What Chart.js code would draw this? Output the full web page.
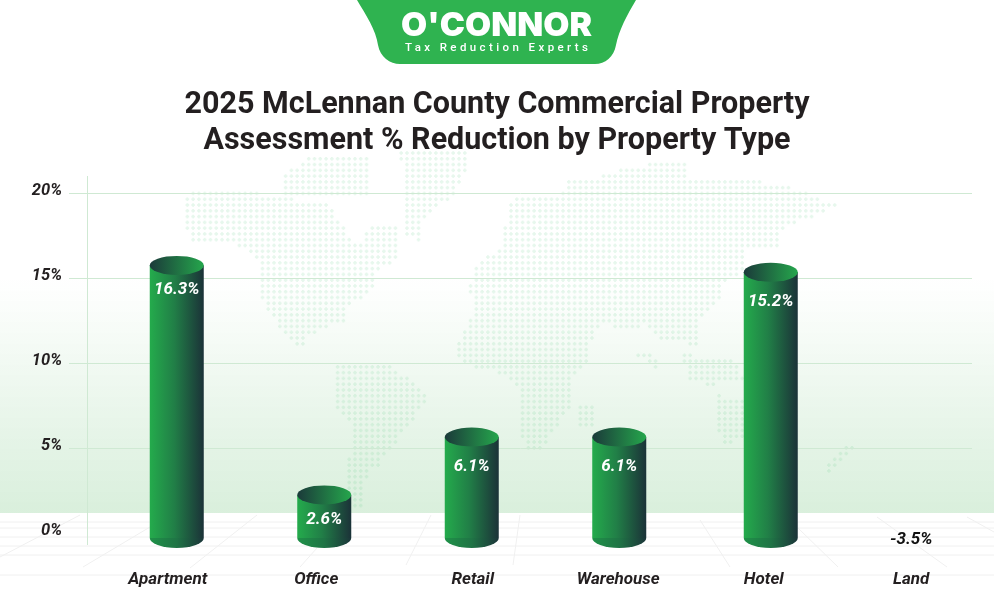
<!DOCTYPE html>
<html>
<head>
<meta charset="utf-8">
<title>2025 McLennan County Commercial Property Assessment % Reduction by Property Type</title>
<script src="https://cdn.jsdelivr.net/npm/chart.js@4"></script>
<style>
  html, body { margin: 0; padding: 0; background: #fff; }
  #wrap { position: relative; width: 994px; height: 612px; overflow: hidden; }
  #chart { position: absolute; left: 0; top: 0; }
  #logo { position: absolute; left: 0; top: 0; }
</style>
</head>
<body>
<div id="wrap">
  <canvas id="chart" width="994" height="612"></canvas>
  <svg id="logo" width="994" height="70" viewBox="0 0 994 70">
    <path d="M357 0 C366 15 376 30 378 45 C380 57 390 64 400 64 L595 64 C605 64 614 57 616 45 C619 30 627 15 636 0 Z" fill="#2fb350"/>
    <text x="401" y="36" textLength="191" lengthAdjust="spacingAndGlyphs" font-family="Inter, Roboto" font-weight="900" font-size="33" fill="#fff">O'CONNOR</text>
    <text x="405" y="51" textLength="183" font-family="Roboto" font-weight="500" font-size="11.5" fill="#fff">Tax Reduction Experts</text>
  </svg>
</div>
<script>
const categories = ['Apartment', 'Office', 'Retail', 'Warehouse', 'Hotel', 'Land'];
// bar tops as drawn in the picture (Hotel stands taller than its 15.2 label, Land has no bar)
const barHeights = [16.3, 2.8, 6.2, 6.2, 15.9, null];
const valueLabels = ['16.3%', '2.6%', '6.1%', '6.1%', '15.2%', '-3.5%'];
const yTicks = [0, 5, 10, 15, 20];

const titleLines = ['2025 McLennan County Commercial Property', 'Assessment % Reduction by Property Type'];

// small hand offsets, the original artwork is not evenly spaced
const barNudge = [0, 0, 0, 0, 4, 0];
const labelNudge = [-9, -8, 1, -1, -3, -3];
const valueDrop = [34, 34, 39, 39, 39, 0];

const INK = '#231f20';
const BAR_R = 27, CAP_R = 9.5, BASE_DROP = 5;

// rough continent outlines for the dotted world map behind the chart
const mapShapes = [
  [[194,190],[240,190],[285,198],[330,205],[340,222],[357,245],[372,225],[397,228],[397,262],[375,272],[372,290],[350,305],[345,320],[328,328],[306,338],[310,348],[298,350],[278,325],[262,300],[262,268],[250,250],[225,240],[195,245],[182,225],[182,200]],
  [[285,172],[310,157],[372,157],[372,195],[285,195]],
  [[400,153],[470,153],[462,180],[452,198],[425,215],[420,240],[406,238],[405,190]],
  [[332,365],[390,365],[427,393],[427,400],[413,420],[403,432],[393,448],[380,464],[367,474],[363,506],[350,506],[348,463],[355,430],[343,418],[332,398]],
  [[597,178],[637,165],[690,162],[690,180],[765,182],[800,190],[836,205],[812,218],[778,230],[785,245],[748,250],[745,270],[722,285],[720,300],[700,322],[700,345],[660,340],[645,325],[625,330],[602,322],[590,345],[587,362],[577,370],[570,382],[573,402],[563,418],[550,438],[540,450],[528,450],[522,437],[517,417],[517,390],[507,376],[477,368],[458,360],[458,343],[472,312],[470,285],[478,262],[500,250],[505,225],[512,198],[560,198],[570,178]],
  [[636,355],[655,355],[660,372],[646,358]],
  [[680,352],[725,362],[740,368],[745,382],[690,380]],
  [[697,362],[732,358],[736,378],[705,388]],
  [[718,395],[745,398],[760,415],[800,425],[800,428],[735,442],[722,442],[718,428],[716,410]],
  [[820,468],[850,443],[853,449],[827,474]],
  [[580,403],[593,403],[593,425],[580,425]]
];

const floorLines = [
  [0,522,994,522],[0,528,994,528],[0,537,994,537],[0,546,994,546],[0,555,994,555],[0,575,994,575],
  [80,515,0,557],[150,527,83,567],[257,515,190,568],[317,548,300,567],[431,515,406,565],[520,515,513,565],
  [700,520,730,567],[798,528,838,567],[877,517,947,567],[967,517,994,532]
];

function insideShape(px, py, pts) {
  let hit = false;
  for (let i = 0, j = pts.length - 1; i < pts.length; j = i++) {
    const [xi, yi] = pts[i], [xj, yj] = pts[j];
    if ((yi > py) !== (yj > py) && px < (xj - xi) * (py - yi) / (yj - yi) + xi) hit = !hit;
  }
  return hit;
}

function drawBackdrop(ctx) {
  const band = ctx.createLinearGradient(0, 280, 0, 513);
  band.addColorStop(0, 'rgba(217,239,220,0)');
  band.addColorStop(1, '#d9efdc');
  ctx.fillStyle = band;
  ctx.fillRect(0, 280, 994, 233);

  ctx.fillStyle = 'rgba(70,190,115,0.13)';
  for (let py = 153; py < 510; py += 5.78) {
    for (let px = 170; px < 860; px += 5.78) {
      if (mapShapes.some(s => insideShape(px, py, s))) {
        ctx.fillRect(px - 1.8, py - 0.9, 3.6, 1.8);
        ctx.fillRect(px - 0.9, py - 1.8, 1.8, 0.9);
        ctx.fillRect(px - 0.9, py + 0.9, 1.8, 0.9);
      }
    }
  }

  ctx.strokeStyle = '#f0f0f0';
  ctx.lineWidth = 1;
  floorLines.forEach(l => {
    ctx.beginPath();
    ctx.moveTo(l[0], l[1]);
    ctx.lineTo(l[2], l[3]);
    ctx.stroke();
  });
}

function drawCylinder(ctx, x, top, base) {
  const body = ctx.createLinearGradient(x - BAR_R, 0, x + BAR_R, 0);
  body.addColorStop(0, '#24ab4c');
  body.addColorStop(0.45, '#217f47');
  body.addColorStop(1, '#1b3238');
  const cy = top + CAP_R;
  ctx.fillStyle = body;
  ctx.fillRect(x - BAR_R, cy, BAR_R * 2, base - cy);

  const foot = ctx.createLinearGradient(x - BAR_R, 0, x + BAR_R, 0);
  foot.addColorStop(0, '#1f9148');
  foot.addColorStop(0.5, '#1f7445');
  foot.addColorStop(1, '#1b3539');
  ctx.fillStyle = foot;
  ctx.beginPath();
  ctx.ellipse(x, base, BAR_R, CAP_R + 0.5, 0, 0, Math.PI);
  ctx.closePath();
  ctx.fill();

  const cap = ctx.createLinearGradient(x - BAR_R, 0, x + BAR_R, 0);
  cap.addColorStop(0, '#1b3a3a');
  cap.addColorStop(1, '#25a64c');
  ctx.fillStyle = cap;
  ctx.beginPath();
  ctx.ellipse(x, cy, BAR_R, CAP_R, 0, 0, Math.PI * 2);
  ctx.fill();
}

const backdropPlugin = {
  id: 'backdrop',
  beforeDraw(chart) {
    drawBackdrop(chart.ctx);
  },
  beforeDatasetsDraw(chart) {
    const { ctx, scales: { y } } = chart;
    ctx.save();
    ctx.strokeStyle = '#cfe9d3';
    ctx.lineWidth = 1;
    yTicks.filter(v => v > 0).forEach(v => {
      const py = Math.round(y.getPixelForValue(v)) + 0.5;
      ctx.beginPath();
      ctx.moveTo(69, py);
      ctx.lineTo(972, py);
      ctx.stroke();
    });
    ctx.beginPath();
    ctx.moveTo(87.5, 176);
    ctx.lineTo(87.5, 545);
    ctx.stroke();
    ctx.restore();
  }
};

const cylinderPlugin = {
  id: 'cylinders',
  afterDatasetsDraw(chart) {
    const { ctx, scales: { x, y } } = chart;
    const zero = y.getPixelForValue(0);
    const bars = chart.getDatasetMeta(0).data;
    ctx.save();
    ctx.textAlign = 'center';
    ctx.textBaseline = 'middle';
    categories.forEach((name, i) => {
      const cx = x.getPixelForTick(i);
      ctx.font = 'italic 700 17px Roboto';
      if (barHeights[i] !== null) {
        drawCylinder(ctx, bars[i].x + barNudge[i], bars[i].y, zero + BASE_DROP);
        ctx.fillStyle = '#fff';
        ctx.fillText(valueLabels[i], bars[i].x + barNudge[i], bars[i].y + valueDrop[i]);
      } else {
        ctx.fillStyle = '#111';
        ctx.fillText(valueLabels[i], cx + labelNudge[i], zero + 7);
      }
      ctx.fillStyle = INK;
      ctx.fillText(name, cx + labelNudge[i], zero + 47);
    });
    ctx.restore();
  }
};

new Chart(document.getElementById('chart'), {
  type: 'bar',
  data: {
    labels: categories,
    datasets: [{ data: barHeights, backgroundColor: 'rgba(0,0,0,0)', barThickness: BAR_R * 2 }],
  },
  options: {
    responsive: false,
    animation: false,
    devicePixelRatio: 1,
    layout: { padding: { left: 6, right: 6, top: 0, bottom: 71 } },
    plugins: {
      legend: { display: false },
      tooltip: { enabled: false },
      title: {
        display: true,
        text: titleLines,
        color: INK,
        font: { family: 'Roboto', size: 30.5, weight: '700', lineHeight: 1.18 },
        padding: { top: 87, bottom: 34 },
      },
    },
    scales: {
      x: {
        grid: { display: false },
        border: { display: false },
        ticks: { display: false },
      },
      y: {
        min: 0,
        max: 20,
        afterFit: (s) => { s.width = 97; },
        afterBuildTicks: (s) => { s.ticks = yTicks.map(v => ({ value: v })); },
        grid: { display: false },
        border: { display: false },
        ticks: {
          color: INK,
          padding: 33,
          labelOffset: -2,
          font: { family: 'Roboto', size: 16.5, style: 'italic', weight: '700' },
          callback: v => v + '%',
        },
      },
    },
  },
  plugins: [backdropPlugin, cylinderPlugin],
});
</script>
</body>
</html>
